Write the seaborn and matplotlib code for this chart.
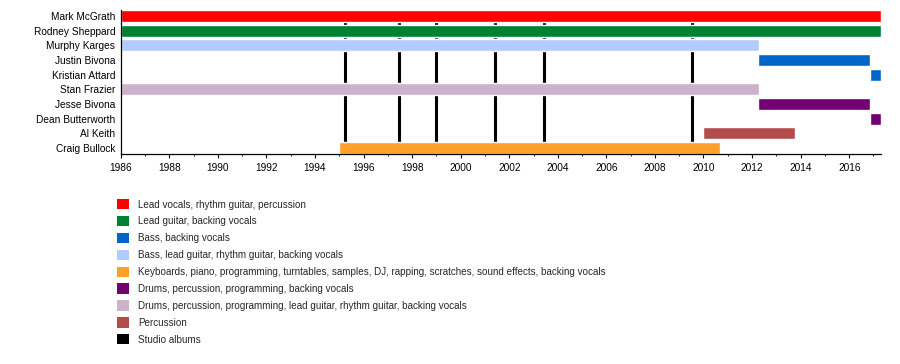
import matplotlib
matplotlib.use("Agg")
import matplotlib.pyplot as plt
from matplotlib.patches import Patch
from matplotlib.ticker import MultipleLocator
import seaborn as sns
import pandas as pd

# band members, one row each, top to bottom
members = ["Mark McGrath", "Rodney Sheppard", "Murphy Karges", "Justin Bivona",
           "Kristian Attard", "Stan Frazier", "Jesse Bivona", "Dean Butterworth",
           "Al Keith", "Craig Bullock"]

# stints: member, start, end, role
stint_member = ["Mark McGrath", "Rodney Sheppard", "Murphy Karges", "Justin Bivona",
                "Kristian Attard", "Stan Frazier", "Jesse Bivona", "Dean Butterworth",
                "Al Keith", "Craig Bullock"]
stint_start = [1986.0, 1986.0, 1986.0, 2012.25, 2016.86, 1986.0, 2012.25, 2016.86, 2010.0, 1995.0]
stint_end = [2017.31, 2017.31, 2012.29, 2016.86, 2017.31, 2012.29, 2016.86, 2017.31, 2013.77, 2010.69]
stint_role = ["vocals", "leadguitar", "bass_guitar", "bass", "bass", "drums_guitar",
              "drums", "drums", "percussion", "keys"]

studio_albums = [1995.25, 1997.47, 1999.0, 2001.43, 2003.42, 2009.54]

roles = ["vocals", "leadguitar", "bass", "bass_guitar", "keys", "drums", "drums_guitar", "percussion"]
role_labels = ["Lead vocals, rhythm guitar, percussion",
               "Lead guitar, backing vocals",
               "Bass, backing vocals",
               "Bass, lead guitar, rhythm guitar, backing vocals",
               "Keyboards, piano, programming, turntables, samples, DJ, rapping, scratches, sound effects, backing vocals",
               "Drums, percussion, programming, backing vocals",
               "Drums, percussion, programming, lead guitar, rhythm guitar, backing vocals",
               "Percussion"]
role_colors = ["#ff0000", "#008033", "#0066cc", "#b3ccff", "#ffa02a", "#730073", "#ccb3cc", "#b34d4d"]

df = pd.DataFrame({"member": stint_member, "start": stint_start,
                   "end": stint_end, "role": stint_role})
df["row"] = df["member"].map({m: i for i, m in enumerate(members)})
palette = dict(zip(roles, role_colors))

sns.set_style("ticks")
plt.rcParams["font.family"] = ["Liberation Sans", "DejaVu Sans"]

fig = plt.figure(figsize=(9, 3.64), dpi=100)
ax = fig.add_axes([0.1341, 0.5769, 0.8448, 0.3956])

# album markers behind the bars
ax.vlines(studio_albums, 0, len(members) - 1, color="black", linewidth=2.2, zorder=1)

ax.barh(df["row"], df["end"] - df["start"], left=df["start"], height=0.82,
        color=df["role"].map(palette), zorder=2)

ax.set_xlim(1986, 2017.31)
ax.set_ylim(len(members) - 1 + 0.4, -0.4)
ax.set_yticks(range(len(members)))
ax.set_yticklabels(members)
ax.xaxis.set_major_locator(MultipleLocator(2))
ax.xaxis.set_minor_locator(MultipleLocator(1))
ax.tick_params(axis="y", length=0, pad=4, labelsize=7.3, colors="black")
ax.tick_params(axis="x", which="major", length=3, width=0.8, pad=3.5, labelsize=7.3, colors="black")
ax.tick_params(axis="x", which="minor", length=1.6, width=0.8)
sns.despine(ax=ax)
for s in ["left", "bottom"]:
    ax.spines[s].set_linewidth(0.9)
    ax.spines[s].set_color("black")
ax.set_xlabel("")
ax.set_ylabel("")

handles = [Patch(facecolor=c, edgecolor="none") for c in role_colors]
handles.append(Patch(facecolor="black", edgecolor="none"))
labels = role_labels + ["Studio albums"]
fig.legend(handles, labels, loc="upper left", bbox_to_anchor=(117 / 900, 1 - 199 / 364),
           frameon=False, fontsize=7.15, handlelength=1.23, handleheight=1.23,
           labelspacing=0.64, handletextpad=0.88, borderpad=0, borderaxespad=0)

fig.savefig("out.png", dpi=100)
